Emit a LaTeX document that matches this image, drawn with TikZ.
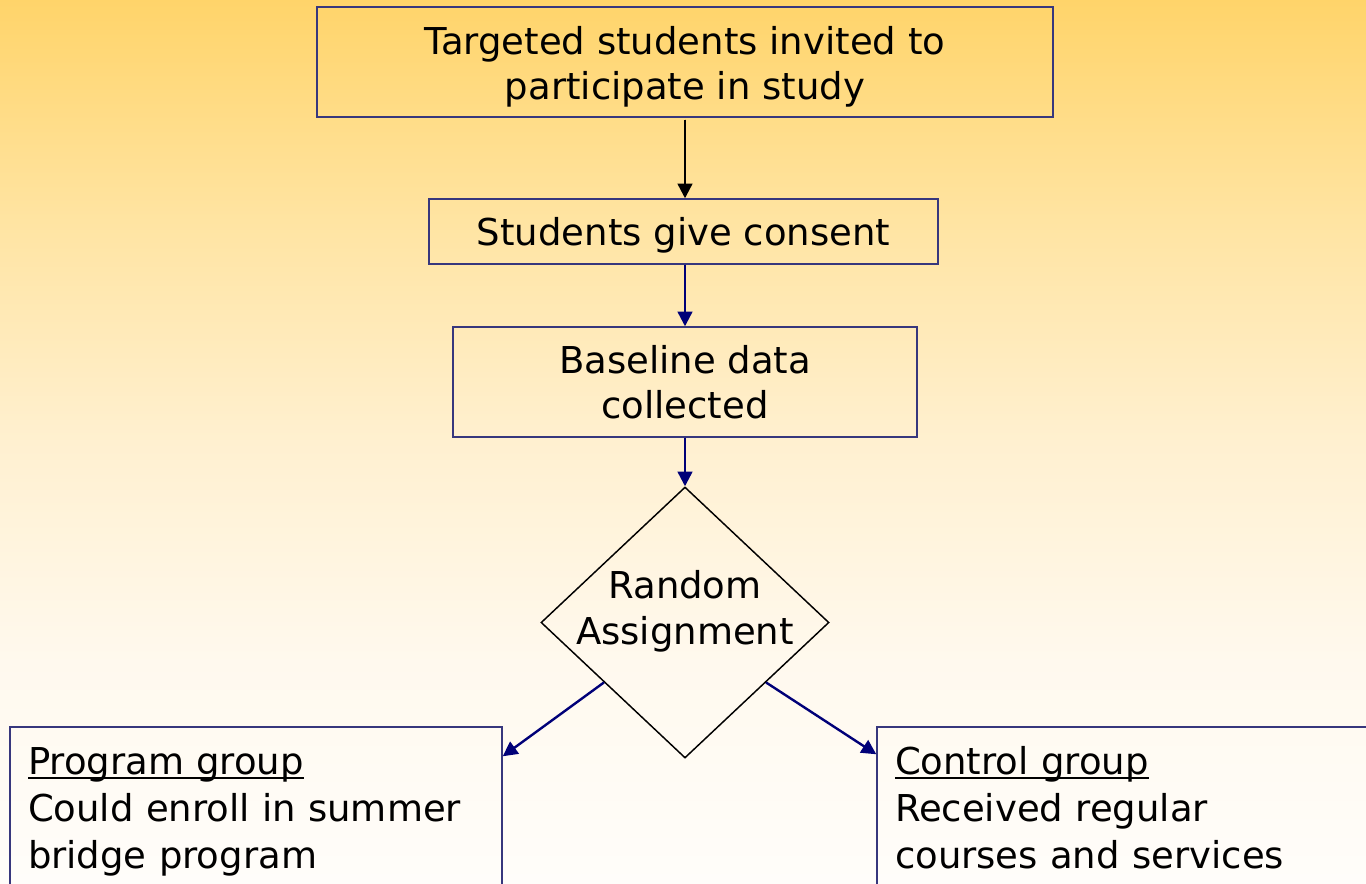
\documentclass[tikz,border=0pt]{standalone}
\usepackage{fontspec}
\setmainfont{DejaVu Sans}
\usetikzlibrary{shapes.geometric,arrows.meta,calc}
\definecolor{boxline}{RGB}{55,55,125}
\definecolor{navyarrow}{RGB}{0,0,120}
\definecolor{bgA}{RGB}{255,212,106}
\definecolor{bgB}{RGB}{255,228,162}
\definecolor{bgC}{RGB}{255,240,208}
\definecolor{bgD}{RGB}{255,249,238}
\definecolor{bgE}{RGB}{255,253,250}
\pgfdeclareverticalshading{bgshade}{100bp}{color(0bp)=(bgE); color(25bp)=(bgE); color(37.5bp)=(bgD); color(50bp)=(bgC); color(62.5bp)=(bgB); color(75bp)=(bgA); color(100bp)=(bgA)}
\newcommand\myul[1]{\setbox0\hbox{#1}\rlap{\rule[-0.11em]{\wd0}{0.05em}}\box0}
\begin{document}
\begin{tikzpicture}[x=0.75pt,y=-0.75pt,
  txt/.style={font=\fontsize{27.75pt}{34pt}\selectfont},
  gtxt/.style={font=\fontsize{27.75pt}{35pt}\selectfont},
  flowbox/.style={draw=boxline, line width=1.1pt, rectangle, inner sep=0pt},
  decision/.style={draw=black, line width=1.1pt, diamond, inner sep=0pt, minimum width=216pt, minimum height=203.25pt},
  arr/.style={-{Triangle[length=11pt,width=11pt]}, line width=1.8pt, draw=navyarrow, fill=navyarrow}
]
\useasboundingbox (0,0) rectangle (1366,883);
\clip (0,0) rectangle (1366,883);
\shade[shading=bgshade] (0,0) rectangle (1366,883);

\node[flowbox, minimum width=552pt, minimum height=82.5pt,
  label={[txt, align=center, yshift=-3.75pt]center:Targeted students invited to\\participate in study}] (top) at (685,62) {};
\node[flowbox, minimum width=381.75pt, minimum height=48.75pt,
  label={[txt, align=center, yshift=-3pt]center:Students give consent}] (consent) at (683.5,231.5) {};
\node[flowbox, minimum width=348pt, minimum height=82.5pt,
  label={[txt, align=center]center:Baseline data\\collected}] (base) at (685,382) {};
\node[decision, label={[txt, align=center, yshift=8.5pt]center:Random\\Assignment}] (dia) at (685,622.5) {};
\node[flowbox, minimum width=369pt, minimum height=127.5pt,
  label={[gtxt, align=left, text width=342pt]center:\strut\myul{Program group}\\Could enroll in summer\\bridge program\strut}] (prog) at (256,812) {};
\node[flowbox, minimum width=377.25pt, minimum height=127.5pt,
  label={[gtxt, align=left, text width=350.25pt]center:\strut\myul{Control group}\\Received regular\\courses and services\strut}] (ctrl) at (1128.5,812) {};

\draw[arr, draw=black, fill=black] ($(top.south)+(0,2)$) -- (top.south |- consent.north);
\draw[arr] (base.north |- consent.south) -- (base.north);
\draw[arr] (base.south) -- (dia.north);
\draw[arr] ($(dia.west)!0.44!(dia.south)$) -- ($(prog.north east)+(0,30)$);
\draw[arr] ($(dia.east)!0.44!(dia.south)$) -- ($(ctrl.north west)+(0,28)$);
\end{tikzpicture}
\end{document}
